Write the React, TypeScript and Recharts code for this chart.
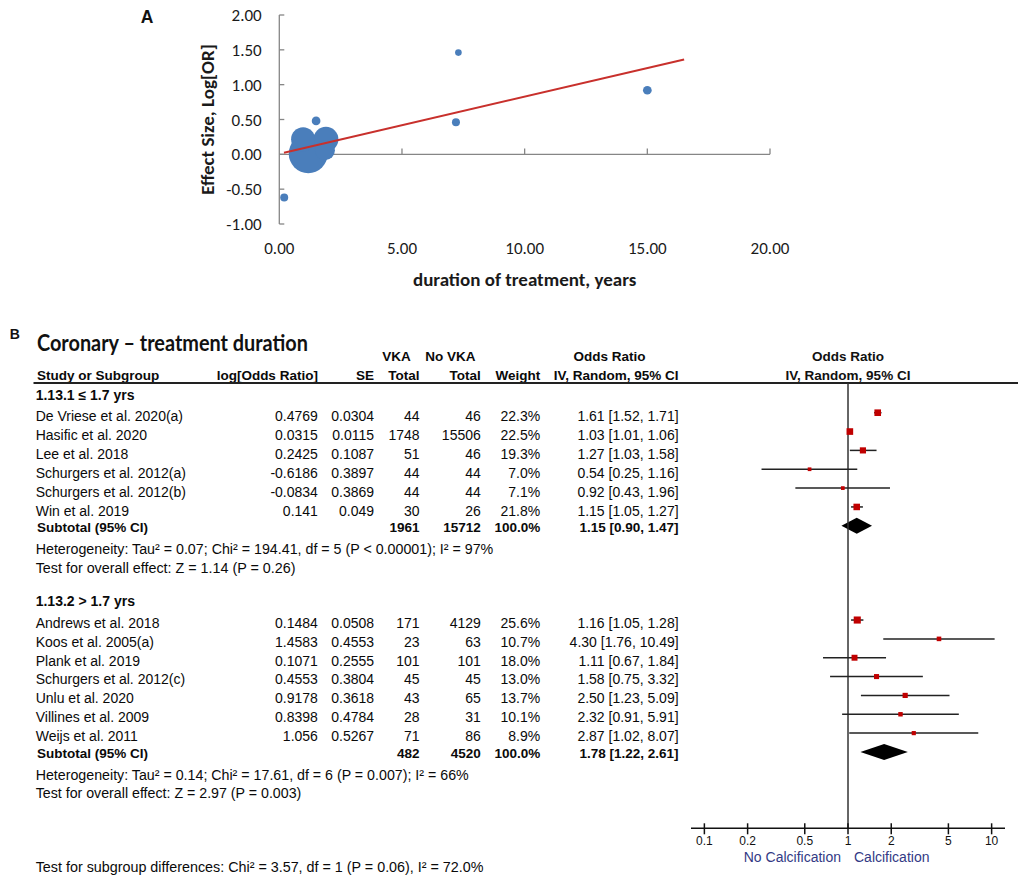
import {
  ComposedChart,
  ReferenceArea,
  ReferenceLine,
  Scatter,
  ScatterChart,
  XAxis,
  YAxis,
  ZAxis,
} from "recharts";

// ---- panel A: meta-regression of effect size on treatment duration ----
const DURATION = [0.2, 1.5, 1.18, 1.9, 0.97, 1.86, 7.3, 7.2, 15.0];
const EFFECT = [-0.62, 0.48, 0.01, 0.215, 0.215, 0.06, 1.46, 0.46, 0.92];
const BUBBLE = [16, 19, 380, 156, 144, 100, 11, 16, 19];
const FIT_X = [0.19, 16.5];
const FIT_Y = [0.024, 1.36];
const A_X_TICKS = [0, 5, 10, 15, 20];
const A_Y_TICKS = [-1, -0.5, 0, 0.5, 1, 1.5, 2];

// ---- panel B: forest plot ----
const G1_LABEL = "1.13.1 \u2264 1.7 yrs";
const G1_STUDY = [
  "De Vriese et al. 2020(a)",
  "Hasific et al. 2020",
  "Lee et al. 2018",
  "Schurgers et al. 2012(a)",
  "Schurgers et al. 2012(b)",
  "Win et al. 2019",
];
const G1_LOGOR = ["0.4769", "0.0315", "0.2425", "-0.6186", "-0.0834", "0.141"];
const G1_SE = ["0.0304", "0.0115", "0.1087", "0.3897", "0.3869", "0.049"];
const G1_VKA = [44, 1748, 51, 44, 44, 30];
const G1_NOVKA = [46, 15506, 46, 44, 44, 26];
const G1_WEIGHT = [22.3, 22.5, 19.3, 7.0, 7.1, 21.8];
const G1_OR = [1.61, 1.03, 1.27, 0.54, 0.92, 1.15];
const G1_LO = [1.52, 1.01, 1.03, 0.25, 0.43, 1.05];
const G1_HI = [1.71, 1.06, 1.58, 1.16, 1.96, 1.27];
const G1_TOTAL = [1961, 15712];
const G1_POOLED = [1.15, 0.9, 1.47];
const G1_HET = "Heterogeneity: Tau\u00b2 = 0.07; Chi\u00b2 = 194.41, df = 5 (P < 0.00001); I\u00b2 = 97%";
const G1_EFFECT = "Test for overall effect: Z = 1.14 (P = 0.26)";

const G2_LABEL = "1.13.2 > 1.7 yrs";
const G2_STUDY = [
  "Andrews et al. 2018",
  "Koos et al. 2005(a)",
  "Plank et al. 2019",
  "Schurgers et al. 2012(c)",
  "Unlu et al. 2020",
  "Villines et al. 2009",
  "Weijs et al. 2011",
];
const G2_LOGOR = ["0.1484", "1.4583", "0.1071", "0.4553", "0.9178", "0.8398", "1.056"];
const G2_SE = ["0.0508", "0.4553", "0.2555", "0.3804", "0.3618", "0.4784", "0.5267"];
const G2_VKA = [171, 23, 101, 45, 43, 28, 71];
const G2_NOVKA = [4129, 63, 101, 45, 65, 31, 86];
const G2_WEIGHT = [25.6, 10.7, 18.0, 13.0, 13.7, 10.1, 8.9];
const G2_OR = [1.16, 4.3, 1.11, 1.58, 2.5, 2.32, 2.87];
const G2_LO = [1.05, 1.76, 0.67, 0.75, 1.23, 0.91, 1.02];
const G2_HI = [1.28, 10.49, 1.84, 3.32, 5.09, 5.91, 8.07];
const G2_TOTAL = [482, 4520];
const G2_POOLED = [1.78, 1.22, 2.61];
const G2_HET = "Heterogeneity: Tau\u00b2 = 0.14; Chi\u00b2 = 17.61, df = 6 (P = 0.007); I\u00b2 = 66%";
const G2_EFFECT = "Test for overall effect: Z = 2.97 (P = 0.003)";

const SUBGROUP_TEST = "Test for subgroup differences: Chi\u00b2 = 3.57, df = 1 (P = 0.06), I\u00b2 = 72.0%";
const OR_TICKS = [0.1, 0.2, 0.5, 1, 2, 5, 10];

// layout of the table (pixels) and forest rows (row index)
const GROUP_LAYOUT = [
  { top: 416, row0: 0, het: 457.6, eff: 259.8 },
  { top: 622.7, row0: 11, het: 433, eff: 265.6 },
];
const ROW_STEP = 18.9;
const COL = { name: 35.7, sub: 37, logor: 317.9, se: 374.1, vka: 419.6, novka: 480.8, weight: 540.2, ci: 678.6 };

const groups = [
  {
    label: G1_LABEL, study: G1_STUDY, logor: G1_LOGOR, se: G1_SE, vka: G1_VKA, novka: G1_NOVKA,
    weight: G1_WEIGHT, or: G1_OR, lo: G1_LO, hi: G1_HI, total: G1_TOTAL, pooled: G1_POOLED,
    het: G1_HET, effect: G1_EFFECT,
  },
  {
    label: G2_LABEL, study: G2_STUDY, logor: G2_LOGOR, se: G2_SE, vka: G2_VKA, novka: G2_NOVKA,
    weight: G2_WEIGHT, or: G2_OR, lo: G2_LO, hi: G2_HI, total: G2_TOTAL, pooled: G2_POOLED,
    het: G2_HET, effect: G2_EFFECT,
  },
];

const bubbles = DURATION.map((x, i) => ({ x, y: EFFECT[i], z: BUBBLE[i] }));
const fit = FIT_X.map((x, i) => ({ x, y: FIT_Y[i] }));

const forestRows = groups.flatMap((g, gi) =>
  g.or.map((v, i) => ({
    x: v,
    y: GROUP_LAYOUT[gi].row0 + i,
    lo: g.lo[i],
    hi: g.hi[i],
    w: g.weight[i],
  }))
);
const pooledRows = groups.map((g, gi) => ({
  y: GROUP_LAYOUT[gi].row0 + g.or.length,
  lo: g.pooled[1],
  hi: g.pooled[2],
}));

const fmtCI = (o: number, l: number, h: number) => `${o.toFixed(2)} [${l.toFixed(2)}, ${h.toFixed(2)}]`;

const A_FONT = "Carlito, Calibri, Lato, sans-serif";
const B_FONT = "'Liberation Sans', Arial, sans-serif";
const AXIS_GREY = "#868686";

function T({ x, y, anchor = "start", bold = false, size, fill = "#0a0a0a", children }: any) {
  return (
    <text
      x={x}
      y={y + 5}
      textAnchor={anchor}
      fontWeight={bold ? 700 : 400}
      fontSize={size ?? (bold ? 13.5 : 14)}
      fontFamily={B_FONT}
      fill={fill}
    >
      {children}
    </text>
  );
}

function Long({ x, y, len, children }: any) {
  return (
    <text x={x} y={y + 5} fontSize={14} fontFamily={B_FONT} fill="#0a0a0a" textLength={len} lengthAdjust="spacingAndGlyphs">
      {children}
    </text>
  );
}

function AXTick({ x, y, payload }: any) {
  return (
    <text x={x} y={y + 30} textAnchor="middle" fontSize={17} fontFamily={A_FONT} fill="#1a1a1a">
      {Number(payload.value).toFixed(2)}
    </text>
  );
}

function AYTick({ x, y, payload }: any) {
  return (
    <g>
      <line x1={x} x2={x + 5} y1={y} y2={y} stroke={AXIS_GREY} strokeWidth={1.3} />
      <text x={x - 17.6} y={y} dy="0.36em" textAnchor="end" fontSize={17} fontFamily={A_FONT} fill="#1a1a1a">
        {Number(payload.value).toFixed(2)}
      </text>
    </g>
  );
}

function ForestTick({ x, y, payload }: any) {
  return (
    <g>
      <line x1={x} x2={x} y1={y - 5} y2={y + 6} stroke="#111" strokeWidth={1.5} />
      <text x={x} y={y + 16.2} textAnchor="middle" fontSize={12} fontFamily={B_FONT} fill="#111">
        {String(payload.value)}
      </text>
    </g>
  );
}

function Square(props: any) {
  const { cx, cy, payload } = props;
  const s = 1.4 * Math.sqrt(payload.w);
  return <rect x={cx - s / 2} y={cy - s / 2} width={s} height={s} fill="#C00000" />;
}

function Diamond(props: any) {
  const { x, y, width, height } = props;
  const cx = x + width / 2;
  const cy = y + height / 2;
  return <polygon points={`${x},${cy} ${cx},${y} ${x + width},${cy} ${cx},${y + height}`} fill="#000" />;
}

function PanelA() {
  return (
    <ScatterChart width={800} height={300} margin={{ top: 15, right: 30, bottom: 14, left: 199.3 }}>
      <XAxis
        type="number"
        dataKey="x"
        domain={[0, 20]}
        ticks={A_X_TICKS}
        axisLine={false}
        tickLine={false}
        tickSize={0}
        tickMargin={0}
        height={62}
        tick={<AXTick />}
        label={{
          value: "duration of treatment, years",
          position: "insideBottom",
          offset: 0,
          style: { fontFamily: A_FONT, fontWeight: 700, fontSize: 19, fill: "#1a1a1a" },
        }}
      />
      <YAxis
        type="number"
        dataKey="y"
        domain={[-1, 2]}
        ticks={A_Y_TICKS}
        width={80}
        axisLine={{ stroke: AXIS_GREY, strokeWidth: 1.3 }}
        tickLine={false}
        tickSize={0}
        tickMargin={0}
        tick={<AYTick />}
        label={{
          value: "Effect Size, Log[OR]",
          angle: -90,
          position: "insideLeft",
          offset: 7.7,
          style: { textAnchor: "middle", fontFamily: A_FONT, fontWeight: 700, fontSize: 19, fill: "#1a1a1a" },
        }}
      />
      <ZAxis type="number" dataKey="z" domain={[0, 400]} range={[0, 400 * Math.PI]} />
      <ReferenceLine y={0} stroke={AXIS_GREY} strokeWidth={1.3} />
      {A_X_TICKS.slice(1).map((t) => (
        <ReferenceLine
          key={t}
          segment={[
            { x: t, y: 0 },
            { x: t, y: 0.085 },
          ]}
          stroke={AXIS_GREY}
          strokeWidth={1.3}
        />
      ))}
      <Scatter data={bubbles} fill="#4A7EBB" isAnimationActive={false} />
      <Scatter
        data={fit}
        line={{ stroke: "#C8302C", strokeWidth: 2 }}
        shape={() => <g />}
        isAnimationActive={false}
      />
    </ScatterChart>
  );
}

function Forest() {
  return (
    <ComposedChart width={341} height={508} margin={{ top: 13.3, right: 16, bottom: 9.7, left: 11 }}>
      <XAxis
        type="number"
        dataKey="x"
        scale="log"
        domain={[0.0807, 12.39]}
        allowDataOverflow
        ticks={OR_TICKS}
        height={40}
        axisLine={{ stroke: "#111", strokeWidth: 1.5 }}
        tickLine={false}
        tickSize={0}
        tickMargin={0}
        tick={<ForestTick />}
      />
      <YAxis type="number" dataKey="y" domain={[-1.56, 22.05]} reversed hide />
      <ReferenceLine x={1} stroke="#333" strokeWidth={1.5} />
      {forestRows.map((r, i) => (
        <ReferenceLine
          key={`ci${i}`}
          segment={[
            { x: r.lo, y: r.y },
            { x: r.hi, y: r.y },
          ]}
          stroke="#222"
          strokeWidth={1.5}
        />
      ))}
      {pooledRows.map((p, i) => (
        <ReferenceArea key={`d${i}`} x1={p.lo} x2={p.hi} y1={p.y - 0.42} y2={p.y + 0.42} shape={Diamond} />
      ))}
      <Scatter data={forestRows} shape={Square} isAnimationActive={false} />
    </ComposedChart>
  );
}

function Table() {
  return (
    <svg width={1021} height={878} style={{ position: "absolute", left: 0, top: 0 }}>
      <text x={140.7} y={22.7} fontFamily={B_FONT} fontWeight={700} fontSize={17.5} fill="#111">
        A
      </text>
      <text x={9.8} y={339.3} fontFamily={B_FONT} fontWeight={700} fontSize={14} fill="#111">
        B
      </text>
      <text
        x={37}
        y={351}
        fontFamily="Lato, 'Open Sans', sans-serif"
        fontWeight={700}
        fontSize={22}
        fill="#111"
        textLength={271}
        lengthAdjust="spacingAndGlyphs"
      >
        Coronary – treatment duration
      </text>

      {/* header */}
      <T x={410.7} y={356} anchor="end" bold>VKA</T>
      <T x={475.4} y={356} anchor="end" bold>No VKA</T>
      <T x={609.4} y={356} anchor="middle" bold>Odds Ratio</T>
      <T x={COL.sub} y={375} bold>Study or Subgroup</T>
      <T x={COL.logor} y={375} anchor="end" bold>log[Odds Ratio]</T>
      <T x={COL.se} y={375} anchor="end" bold>SE</T>
      <T x={COL.vka} y={375} anchor="end" bold>Total</T>
      <T x={COL.novka} y={375} anchor="end" bold>Total</T>
      <T x={COL.weight} y={375} anchor="end" bold>Weight</T>
      <T x={COL.ci} y={375} anchor="end" bold>IV, Random, 95% CI</T>
      <text x={848} y={361} textAnchor="middle" fontFamily={B_FONT} fontWeight={700} fontSize={13.5} fill="#111">
        Odds Ratio
      </text>
      <text x={848} y={380} textAnchor="middle" fontFamily={B_FONT} fontWeight={700} fontSize={13.5} fill="#111">
        IV, Random, 95% CI
      </text>
      <line x1={33.5} x2={1018} y1={383} y2={383} stroke="#222" strokeWidth={2} />

      {groups.map((g, gi) => {
        const L = GROUP_LAYOUT[gi];
        const last = L.top + (g.study.length - 1) * ROW_STEP;
        const sub = last + 16.4;
        const het = sub + 22.2;
        const eff = het + 18.6;
        return (
          <g key={gi}>
            <T x={COL.name} y={L.top - 21.5} bold size={14}>{g.label}</T>
            {g.study.map((s, i) => {
              const y = L.top + i * ROW_STEP;
              return (
                <g key={s}>
                  <T x={COL.name} y={y}>{s}</T>
                  <T x={COL.logor} y={y} anchor="end">{g.logor[i]}</T>
                  <T x={COL.se} y={y} anchor="end">{g.se[i]}</T>
                  <T x={COL.vka} y={y} anchor="end">{g.vka[i]}</T>
                  <T x={COL.novka} y={y} anchor="end">{g.novka[i]}</T>
                  <T x={COL.weight} y={y} anchor="end">{`${g.weight[i].toFixed(1)}%`}</T>
                  <T x={COL.ci} y={y} anchor="end">{fmtCI(g.or[i], g.lo[i], g.hi[i])}</T>
                </g>
              );
            })}
            <T x={COL.sub} y={sub} bold>Subtotal (95% CI)</T>
            <T x={COL.vka} y={sub} anchor="end" bold>{g.total[0]}</T>
            <T x={COL.novka} y={sub} anchor="end" bold>{g.total[1]}</T>
            <T x={COL.weight} y={sub} anchor="end" bold>100.0%</T>
            <T x={COL.ci} y={sub} anchor="end" bold>{fmtCI(g.pooled[0], g.pooled[1], g.pooled[2])}</T>
            <Long x={COL.name} y={het} len={L.het}>{g.het}</Long>
            <Long x={COL.name} y={eff} len={L.eff}>{g.effect}</Long>
          </g>
        );
      })}

      <Long x={COL.name} y={867.3} len={447.8}>{SUBGROUP_TEST}</Long>

      <text x={841} y={861.7} textAnchor="end" fontFamily={B_FONT} fontSize={14} fill="#333a85">
        No Calcification
      </text>
      <text x={854} y={861.7} fontFamily={B_FONT} fontSize={14} fill="#333a85">
        Calcification
      </text>
    </svg>
  );
}

export default function App() {
  return (
    <div style={{ position: "absolute", left: 0, top: 0, width: 1021, height: 878, background: "#fff" }}>
      <Table />
      <div style={{ position: "absolute", left: 0, top: 0 }}>
        <PanelA />
      </div>
      <div style={{ position: "absolute", left: 680, top: 370 }}>
        <Forest />
      </div>
    </div>
  );
}
